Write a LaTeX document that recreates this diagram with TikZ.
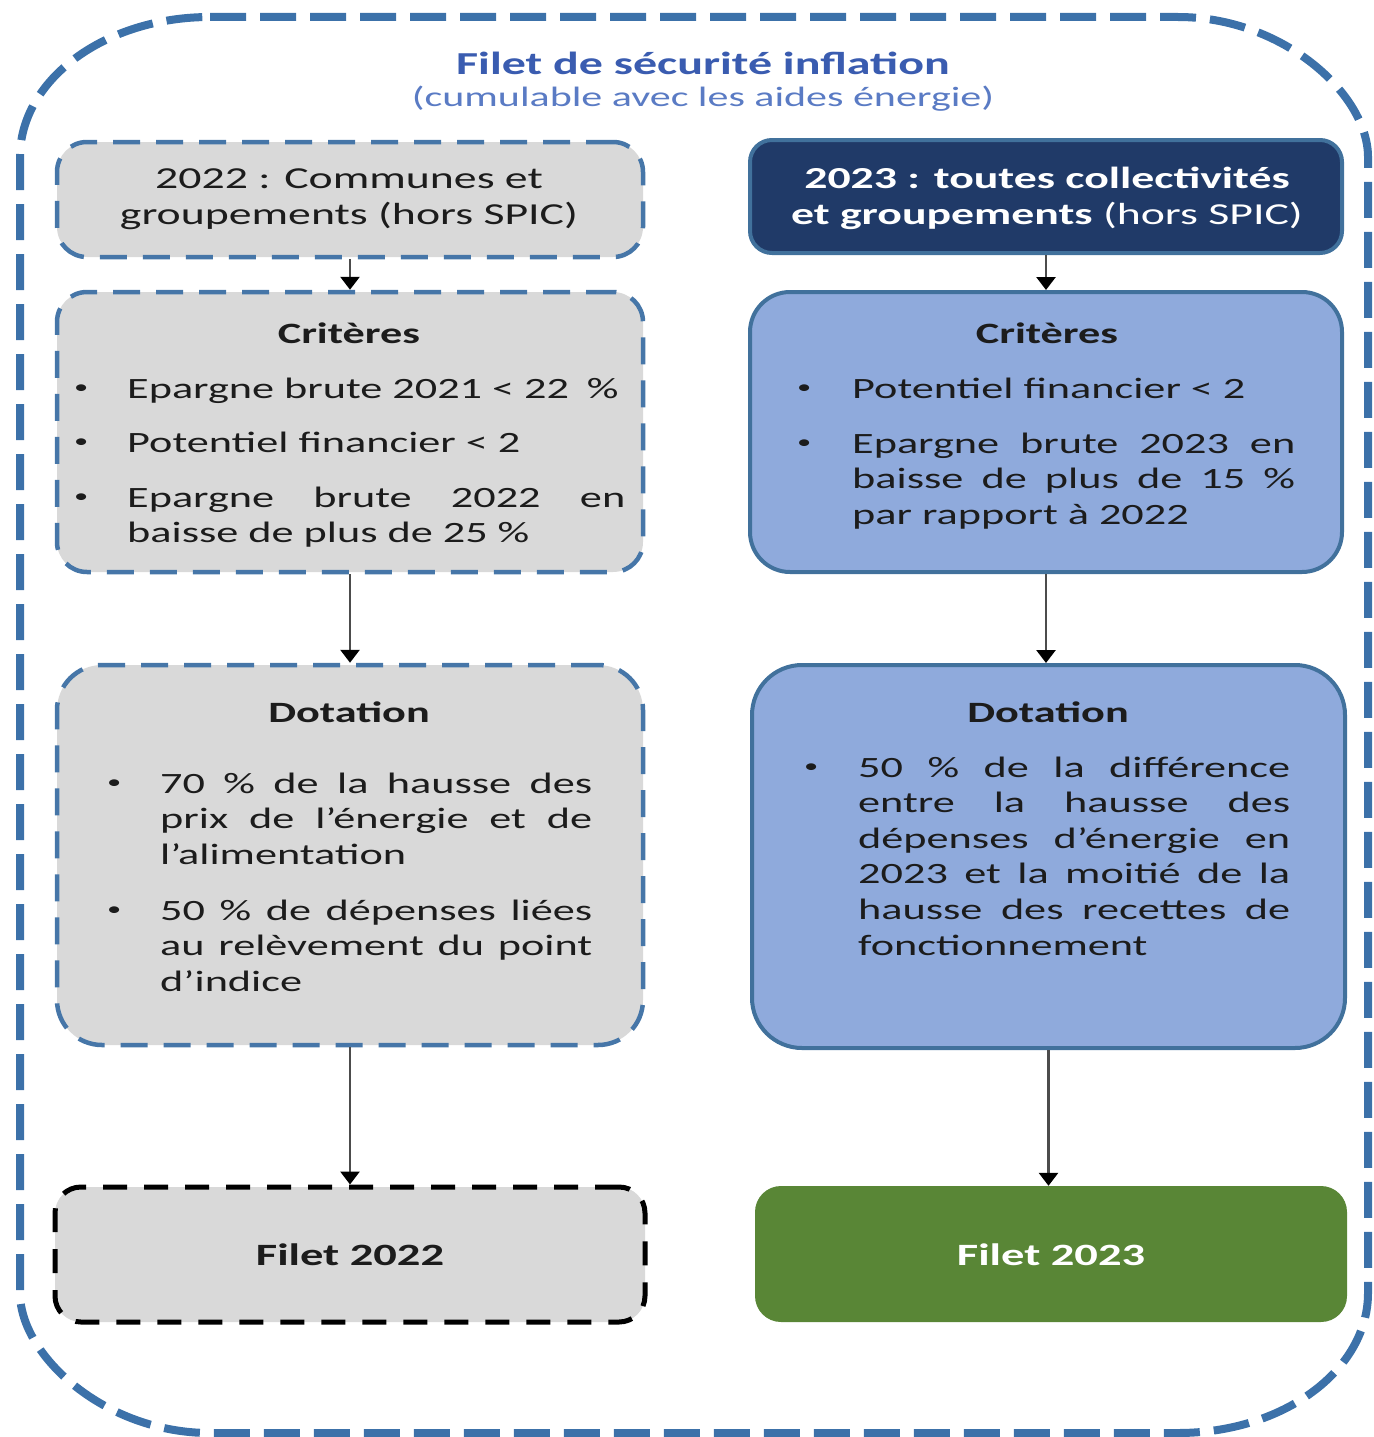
\documentclass[tikz,border=0pt]{standalone}
\usepackage{fontspec}
\setmainfont{Carlito}[FakeStretch=1.5]
\usetikzlibrary{arrows.meta}
\definecolor{outerblue}{HTML}{3C71A9}
\definecolor{boxblue}{HTML}{4676A8}
\definecolor{titleblue}{HTML}{3A5CB0}
\definecolor{subblue}{HTML}{5A7BC4}
\definecolor{grayfill}{HTML}{D9D9D9}
\definecolor{navy}{HTML}{203A68}
\definecolor{rborder}{HTML}{41719C}
\definecolor{lightblue}{HTML}{8FAADC}
\definecolor{greenbox}{HTML}{598636}
\definecolor{txt}{HTML}{1C1C1C}
\newcommand\dfbody{\fontsize{29.5}{35.6}\selectfont}
\newcommand\dfhead{\fontsize{30.5}{36}\selectfont}
\tikzset{
  graybox/.style={draw=boxblue, line width=4.5pt, dash pattern=on 27pt off 16pt,
    fill=grayfill, rounded corners=30pt, inner sep=0pt},
  blackdash/.style={draw=black, line width=5pt, dash pattern=on 24pt off 17pt,
    fill=grayfill, rounded corners=26pt, inner sep=0pt},
  bluebox/.style={draw=rborder, line width=4pt, fill=lightblue,
    rounded corners=40pt, inner sep=0pt},
  navybox/.style={draw=rborder, line width=4pt, fill=navy,
    rounded corners=22pt, inner sep=0pt},
  greenstyle/.style={fill=greenbox, rounded corners=26pt, inner sep=0pt},
  itemtext/.style={anchor=north west, inner sep=0pt, align=justify, font=\dfbody, text=txt},
  bul/.style={anchor=base west, inner sep=0pt, font=\fontsize{19}{22}\selectfont, text=txt},
  heading/.style={inner sep=0pt, font=\dfbody\bfseries, text=txt},
  arr/.style={draw=black!70, line width=2.8pt,
    -{Triangle[width=19pt,length=13pt,fill=black,color=black]}},
}
\begin{document}
\begin{tikzpicture}[x=1pt,y=-1pt]
\useasboundingbox (0,0) rectangle (1373,1437);
% outer frame
\draw[outerblue, line width=8pt, dash pattern=on 36pt off 14pt]
  (210,17) -- (1178,17) .. controls (1283,17) and (1368,94.3) .. (1368,157)
  -- (1368,1293) .. controls (1368,1370.3) and (1283,1433) .. (1178,1433)
  -- (210,1433) .. controls (105,1433) and (20,1355.7) .. (20,1293)
  -- (20,157) .. controls (20,79.7) and (105,17) .. (210,17) -- cycle;
% title
\node[inner sep=0pt, font=\fontsize{32}{38}\selectfont\bfseries, text=titleblue] (title) at (703,63) {Filet de sécurité inflation};
\node[inner sep=0pt, font=\fontsize{28}{34}\selectfont, text=subblue] (subtitle) at (703,99) {(cumulable avec les aides énergie)};

% left column boxes
\node[graybox, minimum width=586pt, minimum height=115pt] (L1) at (350,199.5) {};
\node[graybox, minimum width=586pt, minimum height=280pt] (L2) at (350,432) {};
\node[graybox, rounded corners=45pt, minimum width=586pt, minimum height=380pt] (L3) at (350,855) {};
\node[blackdash, minimum width=590pt, minimum height=135pt] (L4) at (350,1254.5) {};
% right column boxes
\node[navybox, minimum width=592pt, minimum height=113pt] (R1) at (1046,196.5) {};
\node[bluebox, minimum width=592pt, minimum height=280pt] (R2) at (1046,432) {};
\node[bluebox, rounded corners=50pt, minimum width=593pt, minimum height=383pt] (R3) at (1048.5,856.5) {};
\node[greenstyle, minimum width=592pt, minimum height=136pt] (R4) at (1051,1254) {};

% arrows
\draw[arr] (L1.south) -- (L2.north);
\draw[arr] (L2.south) -- (L3.north);
\draw[arr] (L3.south) -- (L4.north);
\draw[arr] (R1.south) -- (R2.north);
\draw[arr] (R2.south) -- (R2.south |- R3.north);
\draw[arr] (R3.south) -- (R3.south |- R4.north);

% headers
\node[inner sep=0pt, align=center, font=\dfhead, text=txt] (L1t) at (349,199)
  {2022 : Communes et\\groupements (hors SPIC)};
\node[inner sep=0pt, align=center, font=\dfhead, text=white] (R1t) at (1047,198)
  {\textbf{2023 : toutes collectivités}\\\textbf{et groupements} (hors SPIC)};

% criteria headings
\node[heading] (L2h) at (349,333) {Critères};
\node[heading] (R2h) at (1047,333) {Critères};
\node[heading] (L3h) at (349,712) {Dotation};
\node[heading] (R3h) at (1048,712) {Dotation};

% left criteria
\node[bul] (lb1) at (74,393) {•};
\node[itemtext, text width=498pt] (li1) at (127,373) {\strut Epargne brute 2021 < 22\hspace{0.6em}\%};
\node[bul] (lb2) at (74,447) {•};
\node[itemtext, text width=498pt] (li2) at (127,427) {\strut Potentiel financier < 2};
\node[bul] (lb3) at (74,502) {•};
\node[itemtext, text width=498pt] (li3) at (127,482) {\strut Epargne brute 2022 en\linebreak baisse de plus de 25 \%};

% right criteria
\node[bul] (rb1) at (797,393) {•};
\node[itemtext, text width=443pt] (ri1) at (852,373) {\strut Potentiel financier < 2};
\node[bul] (rb2) at (797,448) {•};
\node[itemtext, text width=443pt] (ri2) at (852,428) {\strut Epargne brute 2023 en\linebreak baisse de plus de 15 \%\linebreak par rapport à 2022};

% left dotation
\node[bul] (ldb1) at (107,788) {•};
\node[itemtext, text width=432pt] (ldi1) at (160,768) {\strut 70 \% de la hausse des\linebreak prix de l’énergie et de\linebreak l’alimentation};
\node[bul] (ldb2) at (107,915) {•};
\node[itemtext, text width=432pt] (ldi2) at (160,895) {\strut 50 \% de dépenses liées\linebreak au relèvement du point\linebreak d’indice};

% right dotation
\node[bul] (rdb1) at (804,772) {•};
\node[itemtext, text width=432pt] (rdi1) at (858,752) {\strut 50 \% de la différence\linebreak entre la hausse des\linebreak dépenses d’énergie en\linebreak 2023 et la moitié de la\linebreak hausse des recettes de\linebreak fonctionnement};

% final boxes text
\node[inner sep=0pt, font=\fontsize{31}{37}\selectfont\bfseries, text=txt] (L4t) at (350,1255) {Filet 2022};
\node[inner sep=0pt, font=\fontsize{31}{37}\selectfont\bfseries, text=white] (R4t) at (1051,1255) {Filet 2023};
\end{tikzpicture}
\end{document}
